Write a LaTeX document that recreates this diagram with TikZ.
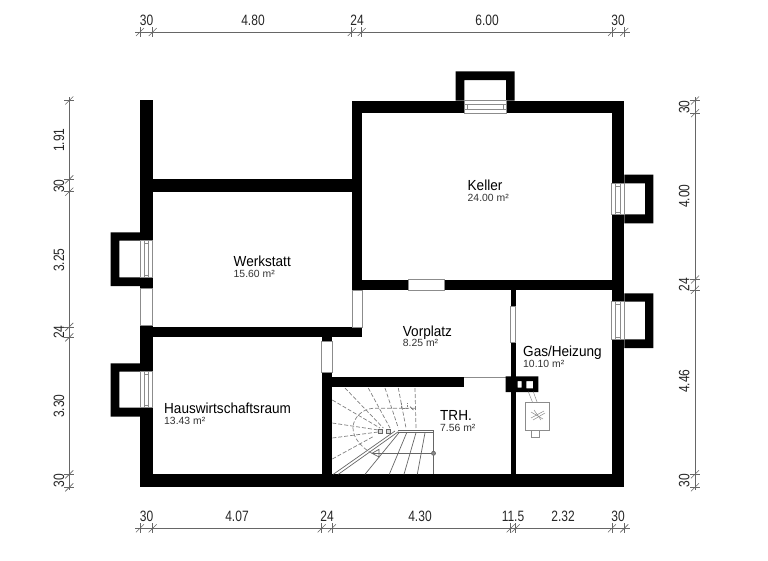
\documentclass[tikz,border=0pt]{standalone}
\usepackage{fontspec}
\setmainfont{Liberation Sans}
\tikzset{
  wall/.style={fill=black,draw=none},
  thinline/.style={draw=black!45,line width=0.5pt},
  stairline/.style={draw=black!60,line width=0.7pt},
  stairdash/.style={draw=black!50,line width=0.7pt,dash pattern=on 4pt off 2pt},
  dimline/.style={draw=black!60,line width=0.6pt},
  roomname/.style={anchor=base west,inner sep=0pt,xscale=0.93,transform shape,font=\fontsize{14.6}{16}\selectfont},
  roomarea/.style={anchor=base west,inner sep=0pt,font=\fontsize{10.4}{12}\selectfont,text=black!80},
  dimh/.style={anchor=base,inner sep=0pt,xscale=0.8,font=\fontsize{15}{17}\selectfont,text=black!85},
  dimv/.style={anchor=base,inner sep=0pt,rotate=90,xscale=0.8,font=\fontsize{15}{17}\selectfont,text=black!85}
}
\begin{document}
\begin{tikzpicture}[x=1pt,y=-1pt]
\useasboundingbox (0,0) rectangle (768,560);
% outer and inner walls
\fill[wall](140,100)rectangle(152.7,240.7);
\fill[wall](140,277.3)rectangle(152.7,288);
\fill[wall](140,325)rectangle(152.7,371.7);
\fill[wall](140,407.7)rectangle(152.7,487.3);
\fill[wall](140,474.3)rectangle(624.3,487.3);
\fill[wall](152.7,179.3)rectangle(352.3,192);
\fill[wall](352.3,100.5)rectangle(361.7,280);
\fill[wall](352.3,100.5)rectangle(464.3,113.2);
\fill[wall](506,100.5)rectangle(624.3,113.2);
\fill[wall](611.7,100.5)rectangle(624.3,183.3);
\fill[wall](611.7,214.3)rectangle(624.3,301.7);
\fill[wall](611.7,339.3)rectangle(624.3,487.3);
\fill[wall](352.3,279.5)rectangle(408.3,289.8);
\fill[wall](444.3,279.5)rectangle(611.7,289.8);
\fill[wall](152.7,326.8)rectangle(362.3,337.3);
\fill[wall](321.7,337.3)rectangle(331.9,341.7);
\fill[wall](321.7,372.7)rectangle(332.3,487.3);
\fill[wall](332.3,377.3)rectangle(464,387.3);
\fill[wall](510.7,289.8)rectangle(515.7,306);
\fill[wall](510.7,342)rectangle(515.7,474.3);
% light shafts
\fill[wall,even odd rule](110.7,232.3)rectangle(140,286)(119.3,240.7)rectangle(140,277.3);
\fill[wall,even odd rule](110.7,363.3)rectangle(140,416.7)(119.3,371.7)rectangle(140,407.7);
\fill[wall,even odd rule](624.3,174.7)rectangle(653.3,223.3)(624.3,183.3)rectangle(645,214.3);
\fill[wall,even odd rule](624.3,293.3)rectangle(653.3,348)(624.3,301.7)rectangle(645,339.3);
\fill[wall,even odd rule](455.7,71.3)rectangle(514.7,100.5)(464.3,80)rectangle(506,100.5);
% windows
\foreach \xa/\ya/\yb in {140/240.7/277.3,140/371.7/407.7,611.7/183.3/214.3,611.7/301.7/339.3}{
  \draw[thinline](\xa,\ya)rectangle(\xa+12.7,\yb);
  \draw[thinline](\xa+4,\ya)--(\xa+4,\yb);
  \draw[thinline](\xa+8.5,\ya)--(\xa+8.5,\yb);
  \draw[thinline](\xa+4,\ya+2.5)--(\xa+8.5,\ya+2.5);
  \draw[thinline](\xa+4,\yb-2.5)--(\xa+8.5,\yb-2.5);
}
\draw[thinline](464.3,100.5)rectangle(506,113.2);
\draw[thinline](464.3,104.7)--(506,104.7);
\draw[thinline](464.3,108.9)--(506,108.9);
\draw[thinline](466.8,104.7)--(466.8,108.9);
\draw[thinline](503.5,104.7)--(503.5,108.9);
% door openings
\draw[thinline](140,288)rectangle(152.7,325);
\draw[thinline](352.3,289.8)rectangle(362.3,326.8);
\draw[thinline](321.7,341.7)rectangle(331.9,372.7);
\draw[thinline](408.3,279.5)rectangle(444.3,289.8);
\draw[thinline](510.7,306)rectangle(515.7,342);
\draw[thinline](464,377.3)--(505.7,377.3);
% chimney and boiler
\fill[wall,even odd rule](505.7,376.3)rectangle(538.3,392)(517.7,381)rectangle(521.7,387.7)(526.3,381)rectangle(533,388.3);
\draw[thinline](525.7,402.7)rectangle(549,430);
\draw[thinline](531.3,430)rectangle(539.3,437.3);
\draw[thinline](528.3,391.7)--(532.7,402.7);
\draw[thinline](533.3,391.7)--(537.3,402.7);
\draw[thinline](531,418)--(544,411);
\draw[thinline](531,412)--(543,419);
\draw[thinline](533,420)--(545,413);
\draw[thinline](534,410)--(541,420);
% stairs
\draw[stairline](398.3,430.7)--(433.5,430.7)--(433.5,474.3);
\draw[stairline](398.3,432.7)--(433.5,432.7);
\draw[stairline](398.3,431.7)--(338.3,474.3);
\draw[stairline](395,431)--(333.3,474.3);
\draw[stairline](425,432.7)--(417.3,474.3);
\draw[stairline](416,432.7)--(404,474.3);
\draw[stairline](406.7,432.7)--(389.3,474.3);
\draw[stairline](399,432.7)--(365,474.3);
\draw[stairdash](415,388)--(416,428.3);
\draw[stairdash](398.3,388)--(406,428);
\draw[stairdash](385,388)--(398.3,428);
\draw[stairdash](368.3,388)--(390,428);
\draw[stairdash](345,388)--(383.3,428);
\draw[stairdash](332.3,400)--(380,428);
\draw[stairdash](332.3,423)--(378.3,430);
\draw[stairdash](332.3,438)--(378,432);
\draw[stairdash](332.3,459)--(373,436.7);
\draw[stairdash](415,408.3)--(373,408.3)..controls(362,409)and(353,418)..(353,428)..controls(353,438)and(362,448)..(372,453.3);
\draw[stairline](372,453.3)--(433.5,453.3);
\draw[stairline](372,453.3)--(379,449.3)--(379,457)--cycle;
\draw[stairline,fill=black!45](433.5,453.3)circle(2pt);
\draw[stairdash,dash pattern=on 2pt off 1pt](401.7,403.3)--(401.7,408.3)--(407.3,408.3)--(407.3,403.3);
\draw[stairline](410,406.7)--(413.3,410);
\draw[stairline,fill=black!15](378.5,429.5)rectangle(382,433);
\draw[stairline,fill=black!15](386.5,429.5)rectangle(390,433);
% room labels
\node(werkstatt)[roomname]at(233.5,266.7){Werkstatt};
\node(werkstattarea)[roomarea]at(233.5,277.3){15.60 m²};
\node(keller)[roomname]at(467.5,190.7){Keller};
\node(kellerarea)[roomarea]at(467.5,201.7){24.00 m²};
\node(vorplatz)[roomname]at(402.7,336){Vorplatz};
\node(vorplatzarea)[roomarea]at(402.7,346.7){8.25 m²};
\node(heizung)[roomname]at(523,356){Gas/Heizung};
\node(heizungarea)[roomarea]at(523,367.3){10.10 m²};
\node(trh)[roomname]at(440,420){TRH.};
\node(trharea)[roomarea]at(440,431){7.56 m²};
\node(hwr)[roomname]at(164,413.3){Hauswirtschaftsraum};
\node(hwrarea)[roomarea]at(164,424){13.43 m²};
% dimension chains
\draw[dimline](135,32)--(630,32);
\draw[dimline](135,528.3)--(630,528.3);
\draw[dimline](69.3,97)--(69.3,490);
\draw[dimline](695,97)--(695,490);
\foreach \x in {140,152.7,351.7,361.7,612,624.3}{
  \draw[dimline](\x,27)--(\x,37);
  \draw[dimline](\x-4,36)--(\x+4,28);
}
\foreach \x in {140,152.7,321.7,332,510.7,515.7,612,624.3}{
  \draw[dimline](\x,523.3)--(\x,533.3);
  \draw[dimline](\x-4,532.3)--(\x+4,524.3);
}
\foreach \y in {100.5,179.3,191.7,326.8,337.3,474.3,487.3}{
  \draw[dimline](64.3,\y)--(74.3,\y);
  \draw[dimline](65.3,\y+4)--(73.3,\y-4);
}
\foreach \y in {100.5,113.2,279.5,289.8,474.3,487.3}{
  \draw[dimline](690,\y)--(700,\y);
  \draw[dimline](691,\y+4)--(699,\y-4);
}
\node(topa)[dimh]at(146.5,25.5){30};
\node(topb)[dimh]at(253,25.5){4.80};
\node(topc)[dimh]at(357,25.5){24};
\node(topd)[dimh]at(487,25.5){6.00};
\node(tope)[dimh]at(618,25.5){30};
\node(bota)[dimh]at(146.5,521.7){30};
\node(botb)[dimh]at(237,521.7){4.07};
\node(botc)[dimh]at(327,521.7){24};
\node(botd)[dimh]at(420,521.7){4.30};
\node(bote)[dimh]at(513,521.7){11.5};
\node(botf)[dimh]at(563,521.7){2.32};
\node(botg)[dimh]at(618,521.7){30};
\node(lefta)[dimv]at(64,140){1.91};
\node(leftb)[dimv]at(64,186){30};
\node(leftc)[dimv]at(64,260){3.25};
\node(leftd)[dimv]at(64,332){24};
\node(lefte)[dimv]at(64,406){3.30};
\node(leftf)[dimv]at(64,480.5){30};
\node(righta)[dimv]at(689.3,107){30};
\node(rightb)[dimv]at(689.3,196){4.00};
\node(rightc)[dimv]at(689.3,284.5){24};
\node(rightd)[dimv]at(689.3,381){4.46};
\node(righte)[dimv]at(689.3,480.5){30};
\end{tikzpicture}
\end{document}
